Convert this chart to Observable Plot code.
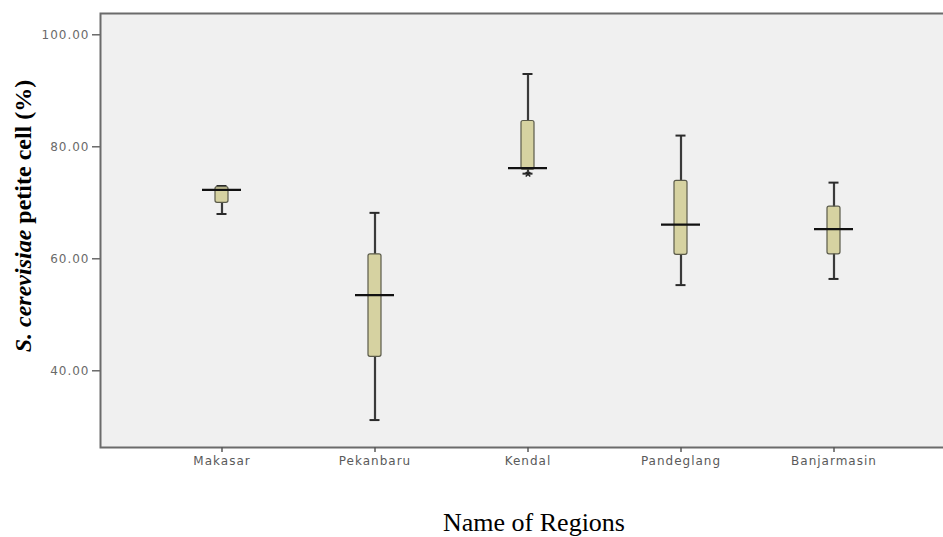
<!DOCTYPE html>
<html>
<head>
<meta charset="utf-8">
<script src="https://cdn.jsdelivr.net/npm/d3@7"></script>
<script src="https://cdn.jsdelivr.net/npm/@observablehq/plot@0.6"></script>
<style>
  html, body { margin: 0; padding: 0; background: #ffffff; overflow: hidden; }
  #chart svg { display: block; }
</style>
</head>
<body>
<div id="chart"></div>
<script>
const regions = ["Makasar", "Pekanbaru", "Kendal", "Pandeglang", "Banjarmasin"];
const minVals = [68.0, 31.2, 75.2, 55.3, 56.4];
const q1Vals = [70.0, 42.5, 75.9, 60.7, 60.8];
const medians = [72.3, 53.5, 76.2, 66.1, 65.3];
const q3Vals = [72.8, 60.8, 84.6, 73.9, 69.3];
const maxVals = [73.0, 68.2, 93.0, 82.0, 73.6];
const extremeRegions = ["Kendal"];
const extremeValues = [75.1];
const yTicks = [40, 60, 80, 100];
const yDomain = [26.3, 103.8];

const data = regions.map((r, i) => ({
  region: r, min: minVals[i], q1: q1Vals[i], median: medians[i], q3: q3Vals[i], max: maxVals[i]
}));
const extremes = extremeRegions.map((r, i) => ({region: r, value: extremeValues[i]}));

const chart = Plot.plot({
  width: 943,
  height: 537,
  marginLeft: 100,
  marginRight: 0,
  marginTop: 13,
  marginBottom: 90,
  style: {background: "white", fontFamily: "'DejaVu Sans', Arial, sans-serif", fontSize: "12px", letterSpacing: "1px"},
  x: {type: "band", domain: regions, paddingInner: 0.915, paddingOuter: 0.7, align: 0.528, label: null},
  y: {domain: yDomain, label: null},
  marks: [
    Plot.frame({fill: "#f0f0f0", stroke: "#6b6b6b", strokeWidth: 2, insetRight: -10}),
    Plot.axisY(yTicks, {tickFormat: d3.format(".2f"), tickSize: 8, tickPadding: 3, color: "#6a6a6a", strokeWidth: 1.5, label: null}),
    Plot.axisX(regions, {tickSize: 5, tickPadding: 4, color: "#5a5a5a", strokeWidth: 1.5, label: null}),
    Plot.ruleX(data, {x: "region", y1: "min", y2: "max", stroke: "#3a3a3a", strokeWidth: 2.2}),
    Plot.tickY(data, {x: "region", y: "min", stroke: "#2a2a2a", strokeWidth: 2, insetLeft: 1.5, insetRight: 1.5}),
    Plot.tickY(data, {x: "region", y: "max", stroke: "#2a2a2a", strokeWidth: 2, insetLeft: 1.5, insetRight: 1.5}),
    Plot.barY(data, {x: "region", y1: "q1", y2: "q3", fill: "#d6d2a1", stroke: "#5a5a4a", strokeWidth: 1.2, rx: 2}),
    Plot.tickY(data, {x: "region", y: "median", stroke: "#111", strokeWidth: 2.2, insetLeft: -13, insetRight: -13}),
    Plot.dot(extremes, {x: "region", y: "value", symbol: "times", r: 2.2, stroke: "#222", strokeWidth: 1.5})
  ]
});

const svg = d3.select(chart);
// y axis label (rotated, bold Times, italic species name)
const yl = svg.append("text")
  .attr("transform", "translate(31,216) rotate(-90)")
  .attr("text-anchor", "middle")
  .style("font-family", "'Liberation Serif', 'Times New Roman', serif")
  .style("font-size", "24px")
  .style("font-weight", "bold")
  .style("letter-spacing", "0px")
  .attr("fill", "#000");
yl.append("tspan").text("S. cerevisiae").style("font-style", "italic");
yl.append("tspan").text(" petite cell (%)");

svg.append("text")
  .attr("x", 534)
  .attr("y", 531)
  .attr("text-anchor", "middle")
  .style("font-family", "'Liberation Serif', 'Times New Roman', serif")
  .style("font-size", "26px")
  .style("letter-spacing", "0px")
  .attr("fill", "#000")
  .text("Name of Regions");

document.getElementById("chart").appendChild(chart);
</script>
</body>
</html>
